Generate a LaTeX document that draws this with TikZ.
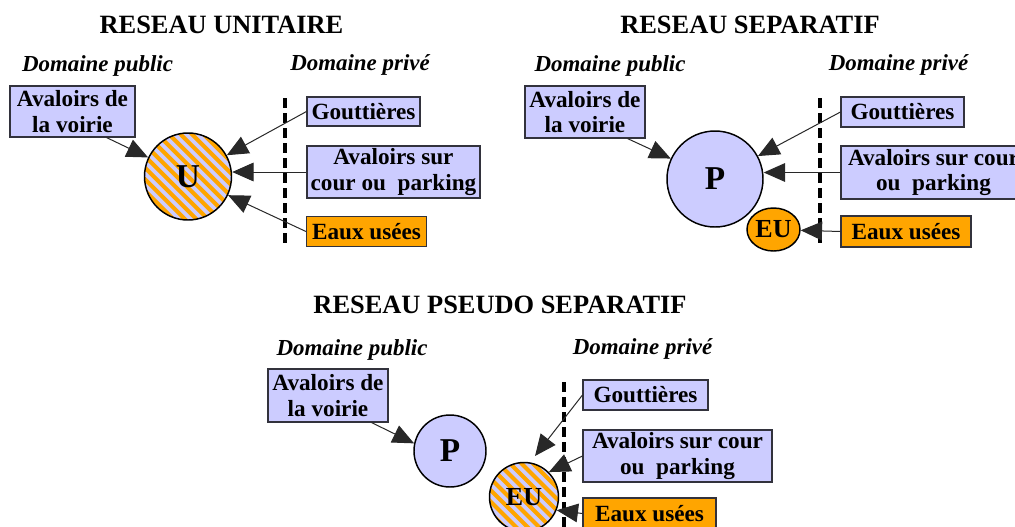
\documentclass[tikz,border=0pt]{standalone}
\usepackage{fontspec}
\setmainfont{Liberation Serif}
\usetikzlibrary{arrows.meta,calc,shapes.geometric}
\definecolor{lav}{RGB}{204,204,255}
\definecolor{org}{RGB}{255,165,0}
\definecolor{boxc}{RGB}{50,50,60}
\definecolor{linec}{RGB}{40,40,40}
\newcommand\boxfont{\fontsize{17.4}{19}\selectfont\bfseries}
\newcommand\ttlfont{\fontsize{19.8}{22}\selectfont\bfseries}
\newcommand\domfont{\fontsize{17.2}{19}\selectfont\bfseries\itshape}
\newcommand\hubfont{\fontsize{25}{27}\selectfont\bfseries}
\newcommand\eufont{\fontsize{19.5}{21}\selectfont\bfseries}
\tikzset{
  box/.style={draw=boxc, line width=0.8pt, fill=lav, inner sep=0pt, align=center, font=\boxfont},
  obox/.style={box, fill=org},
  ttl/.style={font=\ttlfont, inner sep=0pt},
  dom/.style={font=\domfont, inner sep=0pt},
  arr/.style={draw=linec, line width=0.75pt, -{Triangle[length=16pt,width=14pt]}},
  sepline/.style={line width=3pt, dash pattern=on 7.5pt off 3.75pt},
  hub/.style={circle, draw, line width=1.1pt, inner sep=0pt, fill=lav, font=\hubfont},
  hatch/.style={path picture={
      \foreach \k in {-12,...,12}{
        \draw[org, line width=3pt, shift={(path picture bounding box.center)}]
          (\k*11.5-80,-80) -- ++(160,160);}}}
}
\begin{document}
\begin{tikzpicture}[x=0.75pt,y=-0.75pt]
\useasboundingbox (0,0) rectangle (1015,526);
\clip (0,0) rectangle (1015,526);
\fill[white] (0,0) rectangle (1015,526);

% ---------- RESEAU UNITAIRE ----------
\node[ttl] (t1) at (221.5,25) {RESEAU UNITAIRE};
\node[dom] (dp1) at (97.5,66) {Domaine public};
\node[dom] (dv1) at (360,65) {Domaine privé};
\node[box, minimum width=93.75pt, minimum height=38.25pt] (A1) at (72.5,111.5) {Avaloirs de\\la voirie};
\node[hub, hatch, minimum size=65.25pt] (U) at (188,176.5) {U};
\coordinate (d1a) at (285,98);
\coordinate (d1b) at (285,246);
\draw[sepline] (d1a) -- (d1b);
\node[box, minimum width=84.75pt, minimum height=21.75pt] (G1) at (363.5,111.5) {Gouttières};
\node[box, minimum width=129.75pt, minimum height=39pt] (S1) at (393.5,172) {Avaloirs sur\\cour ou\ \ parking};
\node[obox, minimum width=90pt, minimum height=22.5pt] (E1) at (366.5,231.5) {Eaux usées};
\draw[arr] ($(A1.south west)+(97,0)$) -- (U);
\draw[arr] (G1.west) -- (U);
\draw[arr] (S1.west) -- (U.east |- S1.west);
\draw[arr] (E1.west) -- (U);

% ---------- RESEAU SEPARATIF ----------
\node[ttl] (t2) at (750,25) {RESEAU SEPARATIF};
\node[dom] (dp2) at (610,66) {Domaine public};
\node[dom] (dv2) at (898.5,65) {Domaine privé};
\node[box, minimum width=90pt, minimum height=39pt] (A2) at (585,112) {Avaloirs de\\la voirie};
\node[hub, minimum size=72pt] (P2) at (715,179) {P};
\node[ellipse, draw, line width=1.1pt, fill=org, inner sep=0pt, minimum width=39.75pt, minimum height=32.25pt, font=\eufont] (EU2) at (773.5,229.5) {EU};
\coordinate (d2a) at (820,98);
\coordinate (d2b) at (820,246);
\draw[sepline] (d2a) -- (d2b);
\node[box, minimum width=92.25pt, minimum height=22.5pt] (G2) at (902.5,112) {Gouttières};
\node[box, minimum width=138.75pt, minimum height=39.75pt] (S2) at (933.5,172.5) {Avaloirs sur cour\\ou\ \ parking};
\node[obox, minimum width=97.5pt, minimum height=23.25pt] (E2) at (906,231.5) {Eaux usées};
\draw[arr] ($(A2.south west)+(103,0)$) -- (P2);
\draw[arr] (G2.west) -- (P2);
\draw[arr] (S2.west) -- (P2.east |- S2.west);
\draw[arr] (E2.west) -- (EU2);

% ---------- RESEAU PSEUDO SEPARATIF ----------
\node[ttl] (t3) at (500,305) {RESEAU PSEUDO SEPARATIF};
\node[dom] (dp3) at (352,350) {Domaine public};
\node[dom] (dv3) at (642.5,349) {Domaine privé};
\node[box, minimum width=90pt, minimum height=39.75pt] (A3) at (328,395.5) {Avaloirs de\\la voirie};
\node[hub, minimum size=54pt] (P3) at (450,451) {P};
\node[circle, draw, line width=1.1pt, inner sep=0pt, fill=lav, hatch, minimum size=51.75pt, font=\eufont] (EU3) at (524,497) {EU};
\coordinate (d3a) at (564,382);
\coordinate (d3b) at (564,530);
\draw[sepline] (d3a) -- (d3b);
\node[box, minimum width=93.75pt, minimum height=22.5pt] (G3) at (645.5,395) {Gouttières};
\node[box, minimum width=141.75pt, minimum height=39pt] (S3) at (677.5,456) {Avaloirs sur cour\\ou\ \ parking};
\node[obox, minimum width=99.75pt, minimum height=23.25pt] (E3) at (649.5,513.5) {Eaux usées};
\coordinate (g3e) at (535,456);
\draw[arr] ($(A3.south west)+(104,0)$) -- (P3.168);
\draw[arr] (G3.west) -- (g3e);
\draw[arr] (S3.west) -- (EU3.45);
\draw[arr] (E3.west) -- (EU3.-22);
\end{tikzpicture}
\end{document}
